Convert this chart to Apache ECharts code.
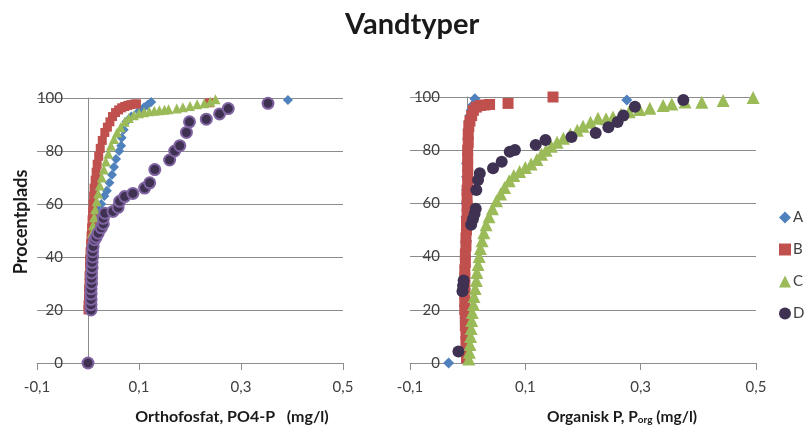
<!DOCTYPE html>
<html>
<head>
<meta charset="utf-8">
<script src="https://cdn.jsdelivr.net/npm/echarts@6/dist/echarts.min.js"></script>
<style>
  html, body { margin: 0; padding: 0; background: #ffffff; }
  #chart { width: 807px; height: 425px; }
</style>
</head>
<body>
<div id="chart"></div>
<script>
// Percentile plots of phosphorus fractions per water type (A-D).
// Each point: [concentration in mg/l, percentile in %].

const seriesNames = ['A', 'B', 'C', 'D'];
const xTickValues = [-0.1, 0.1, 0.3, 0.5];
const yTickValues = [0, 20, 40, 60, 80, 100];

// Orthofosfat, PO4-P (left panel)
const orthoA = [
  [0, 0], [0.004, 20], [0.004, 23], [0.005, 26], [0.005, 29], [0.006, 32], [0.006, 35],
  [0.007, 38], [0.008, 41], [0.009, 44], [0.011, 47], [0.013, 50], [0.016, 53], [0.019, 56],
  [0.023, 58], [0.026, 60], [0.032, 63], [0.037, 65], [0.042, 68], [0.047, 71], [0.051, 74],
  [0.055, 77], [0.061, 80], [0.065, 82], [0.066, 85], [0.07, 88], [0.075, 91], [0.085, 93],
  [0.1, 95], [0.11, 96.5], [0.117, 97.5], [0.124, 98.5], [0.392, 99.2]
];
const orthoB = [
  [0, 0], [0.0, 20], [0.0, 22], [0.001, 24], [0.001, 26], [0.001, 28], [0.002, 30], [0.002, 33],
  [0.003, 36], [0.003, 39], [0.004, 42], [0.005, 45], [0.006, 48], [0.007, 51], [0.008, 54],
  [0.009, 57], [0.010, 60], [0.011, 63], [0.012, 66], [0.014, 69], [0.016, 72], [0.018, 75],
  [0.021, 78], [0.024, 81], [0.028, 84], [0.033, 87], [0.038, 89], [0.043, 91], [0.048, 93],
  [0.054, 94.5], [0.06, 95.5], [0.066, 96.3], [0.072, 96.8], [0.078, 97.2], [0.084, 97.5],
  [0.09, 97.7], [0.095, 97.8], [0.238, 98.2]
];
const orthoC = [
  [0, 0], [0.002, 28], [0.003, 31], [0.003, 34], [0.004, 37], [0.004, 40], [0.005, 43],
  [0.006, 46], [0.008, 49], [0.010, 52], [0.012, 55], [0.014, 58], [0.017, 61], [0.02, 64],
  [0.023, 67], [0.027, 70], [0.031, 73], [0.035, 76], [0.04, 79], [0.045, 82], [0.051, 84.5],
  [0.057, 87], [0.064, 89], [0.072, 91], [0.08, 92.5], [0.09, 93.5], [0.1, 94.2], [0.11, 94.6],
  [0.12, 95], [0.13, 95.2], [0.14, 95.4], [0.15, 95.6], [0.158, 95.8], [0.174, 96],
  [0.186, 96.5], [0.2, 97], [0.214, 97.6], [0.228, 98], [0.24, 98.6], [0.25, 99.5]
];
const orthoD = [
  [0, 0], [0.006, 20], [0.006, 22], [0.006, 24], [0.006, 26], [0.006, 28], [0.007, 30],
  [0.007, 32], [0.007, 34], [0.008, 36], [0.008, 38], [0.009, 40], [0.009, 42], [0.010, 44],
  [0.013, 46.5], [0.016, 47.5], [0.02, 49], [0.026, 51], [0.03, 52.5], [0.03, 54.6],
  [0.033, 56.5], [0.049, 57.2], [0.059, 58.7], [0.062, 61], [0.072, 62.8], [0.088, 64],
  [0.111, 66], [0.121, 68], [0.131, 73], [0.16, 76.6], [0.17, 80], [0.18, 82], [0.193, 87],
  [0.199, 91], [0.232, 92], [0.258, 94], [0.275, 96], [0.353, 98]
];

// Organisk P, Porg (right panel)
const organA = [
  [-0.033, 0], [-0.005, 17], [-0.005, 19], [-0.004, 21], [-0.004, 24], [-0.004, 28],
  [-0.004, 32], [-0.004, 36], [-0.003, 40], [-0.003, 44], [-0.002, 46], [-0.003, 50],
  [-0.003, 55], [-0.003, 60], [-0.002, 65], [-0.002, 70], [-0.002, 75], [-0.001, 80],
  [0.0, 84], [0.001, 88], [0.002, 91], [0.004, 93], [0.006, 95], [0.009, 97],
  [0.0125, 99.3], [0.276, 98.9]
];
const organB = [
  [-0.002, 2], [-0.002, 5], [-0.003, 8], [-0.003, 11], [-0.004, 14], [-0.004, 17],
  [-0.005, 20], [-0.005, 23], [-0.005, 26], [-0.005, 29], [-0.005, 32], [-0.005, 35],
  [-0.004, 38], [-0.004, 41], [-0.003, 44], [-0.003, 47], [-0.002, 50], [-0.002, 53],
  [-0.001, 56], [-0.001, 59], [-0.001, 62], [-0.001, 65], [0.0, 68], [0.0, 71], [0.0, 74],
  [0.0, 77], [0.0, 80], [0.001, 83], [0.001, 86], [0.002, 89], [0.004, 91], [0.007, 93],
  [0.010, 95], [0.015, 96.2], [0.022, 96.8], [0.03, 97], [0.038, 97.2], [0.07, 97.6],
  [0.148, 100]
];
const organC = [
  [0.002, 1.5], [0.003, 4], [0.004, 7], [0.005, 10], [0.006, 13], [0.007, 16], [0.008, 19],
  [0.01, 22], [0.011, 25], [0.013, 28], [0.015, 31], [0.016, 34], [0.018, 37], [0.02, 40],
  [0.022, 43], [0.025, 46], [0.028, 49], [0.032, 52], [0.037, 55], [0.043, 58], [0.05, 61],
  [0.057, 63.5], [0.064, 66], [0.072, 68.5], [0.08, 70.5], [0.09, 72], [0.1, 73.5],
  [0.11, 74.8], [0.12, 76.5], [0.128, 78.5], [0.136, 80], [0.145, 81.5], [0.155, 83],
  [0.166, 84.5], [0.178, 86], [0.19, 87.5], [0.2, 89], [0.213, 90.5], [0.226, 92],
  [0.24, 91.8], [0.252, 92.5], [0.266, 93.5], [0.28, 94.5], [0.298, 95.3], [0.316, 95.8],
  [0.339, 96.8], [0.354, 97.4], [0.377, 98.1], [0.406, 98], [0.443, 98.7], [0.495, 99.8]
];
const organD = [
  [-0.016, 4.3], [-0.009, 27], [-0.008, 29], [-0.007, 31], [0.006, 52], [0.009, 54],
  [0.012, 56], [0.014, 58], [0.015, 65], [0.018, 68.8], [0.021, 71.3], [0.044, 73.2],
  [0.059, 75.7], [0.073, 79.4], [0.082, 80.1], [0.118, 82], [0.135, 83.8], [0.18, 85],
  [0.222, 86.5], [0.244, 88.6], [0.26, 90.6], [0.27, 93], [0.29, 96.3], [0.374, 98.9]
];

const colors = { A: '#4F81BD', B: '#C0504D', C: '#9BBB59', D: '#3F3151' };
const symbols = { A: 'diamond', B: 'rect', C: 'triangle', D: 'circle' };
const FONT = 'Lato, "Open Sans", sans-serif';
const TXT = '#404040';
const GRID_LINE = '#8c8c8c';

const fmt = v => (Math.round(v * 10) / 10).toFixed(1).replace('.', ',');

function xAxisFor(gridIndex, name, nameShift, nameSize, rich) {
  return {
    type: 'value', gridIndex, min: -0.1, max: 0.5,
    name, nameLocation: 'middle', nameGap: 46,
    nameTextStyle: {
      fontFamily: FONT, fontWeight: 'bold', fontSize: nameSize, color: '#1a1a1a',
      padding: [0, 0, 0, nameShift * 2], rich
    },
    axisLine: { onZero: false, lineStyle: { color: GRID_LINE, width: 1 } },
    axisTick: { show: true, inside: false, length: 7, customValues: xTickValues,
      lineStyle: { color: GRID_LINE } },
    axisLabel: { customValues: xTickValues, formatter: fmt, margin: 17,
      fontFamily: FONT, fontSize: 15, color: TXT },
    splitLine: { show: false }
  };
}

// Labels sit inside the plot area, to the left of the zero line.
function yAxisFor(gridIndex, name, labelMargin) {
  return {
    type: 'value', gridIndex, min: 0, max: 100, interval: 20,
    name, nameLocation: 'middle', nameGap: 7,
    nameTextStyle: { fontFamily: FONT, fontWeight: 'bold', fontSize: 18, color: '#1a1a1a',
      padding: [0, 0, 0, 17] },
    axisLine: { show: true, onZero: true, lineStyle: { color: GRID_LINE, width: 1 } },
    axisTick: { show: false },
    axisLabel: { margin: labelMargin, fontFamily: FONT, fontSize: 15, color: TXT,
      verticalAlign: 'middle', padding: [0, 0, 10, 0] },
    splitLine: { show: true, lineStyle: { color: GRID_LINE, width: 1 } }
  };
}

function scatter(name, data, axisIndex, size, extraStyle) {
  return {
    type: 'scatter', name, data,
    xAxisIndex: axisIndex, yAxisIndex: axisIndex,
    symbol: symbols[name], symbolSize: size,
    itemStyle: Object.assign({ color: colors[name], opacity: 1 }, extraStyle || {}),
    emphasis: { disabled: true }
  };
}

const chart = echarts.init(document.getElementById('chart'), null, { renderer: 'canvas' });
chart.setOption({
  animation: false,
  backgroundColor: '#ffffff',
  title: {
    text: 'Vandtyper', left: 340, top: 5,
    textStyle: { fontFamily: FONT, fontWeight: 'bold', fontSize: 29, color: '#1a1a1a' }
  },
  legend: {
    orient: 'vertical', left: 779, top: 210, padding: 0,
    itemWidth: 12, itemHeight: 12, itemGap: 17,
    textStyle: { fontFamily: FONT, fontSize: 15, color: TXT, padding: [0, 0, 0, -3] },
    data: [
      { name: 'A', icon: 'diamond' },
      { name: 'B', icon: 'rect' },
      { name: 'C', icon: 'triangle' },
      { name: 'D', icon: 'circle', itemStyle: { borderWidth: 0 } }
    ]
  },
  grid: [
    { left: 37, top: 98, width: 306, height: 265, containLabel: false, outerBoundsMode: 'none' },
    { left: 410, top: 97, width: 346, height: 266, containLabel: false, outerBoundsMode: 'none' }
  ],
  xAxis: [
    xAxisFor(0, 'Orthofosfat, PO4-P   (mg/l)', 42, 16),
    xAxisFor(1, 'Organisk P, P{s|org} (mg/l)', 39, 15.5,
      { s: { fontFamily: FONT, fontWeight: 'bold', fontSize: 10, color: '#1a1a1a',
             verticalAlign: 'bottom', padding: [6, 0, 0, 0] } })
  ],
  yAxis: [
    yAxisFor(0, 'Procentplads', -26),
    yAxisFor(1, '', -30)
  ],
  series: [
    scatter('A', orthoA, 0, 10),
    scatter('B', orthoB, 0, 9),
    scatter('C', orthoC, 0, 10),
    scatter('D', orthoD, 0, 11, { borderColor: '#8064A2', borderWidth: 2 }),
    scatter('A', organA, 1, 11),
    scatter('B', organB, 1, 11),
    scatter('C', organC, 1, 13),
    scatter('D', organD, 1, 12)
  ]
});
</script>
</body>
</html>
